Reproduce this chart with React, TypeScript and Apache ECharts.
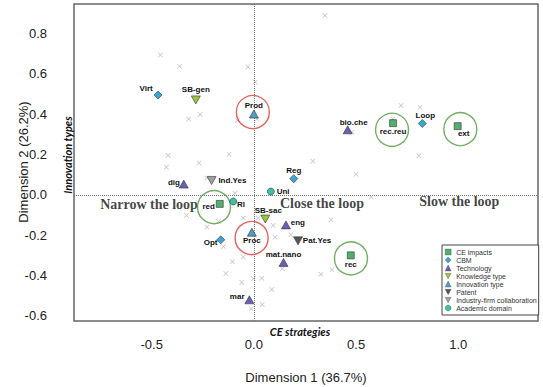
import React, { useEffect, useRef } from 'react';
import * as echarts from 'echarts';

// ---- data ----
const ceImpactNames = ['red', 'rec.reu', 'ext', 'rec'];
const ceImpactX = [-0.167, 0.681, 0.997, 0.474];
const ceImpactY = [-0.045, 0.355, 0.34, -0.3];

const cbmNames = ['Virt', 'Loop', 'Reg', 'Opt'];
const cbmX = [-0.469, 0.824, 0.195, -0.162];
const cbmY = [0.494, 0.353, 0.08, -0.223];

const techNames = ['dig', 'bio.che', 'eng', 'mat.nano', 'mar'];
const techX = [-0.343, 0.459, 0.157, 0.145, -0.022];
const techY = [0.053, 0.322, -0.149, -0.335, -0.52];

const knowNames = ['SB-gen', 'SB-sac'];
const knowX = [-0.284, 0.056];
const knowY = [0.47, -0.12];

const innovNames = ['Prod', 'Proc'];
const innovX = [0.0, -0.01];
const innovY = [0.4, -0.185];

const patentNames = ['Pat.Yes'];
const patentX = [0.216];
const patentY = [-0.228];

const industryNames = ['Ind.Yes'];
const industryX = [-0.207];
const industryY = [0.071];

const academicNames = ['Uni', 'Rl'];
const academicX = [0.083, -0.101];
const academicY = [0.016, -0.033];

// supplementary (grey crosses)
const suppX = [0.348, -0.457, -0.363, -0.029, 0.006, -0.319, -0.263, -0.08, 0.015, -0.42, -0.121, -0.268, -0.428, 0.288, 0.5, 0.72, 0.813, 0.48, 0.68, 0.807, 0.574, -0.229, -0.092, -0.33, -0.23, -0.173, -0.052, 0.021, 0.095, 0.181, 0.103, 0.377, -0.149, -0.105, -0.052, -0.137, -0.059, -0.003, 0.039, 0.088, -0.013, 0.041, 0.139, 0.328, 0.382];
const suppY = [0.888, 0.693, 0.637, 0.634, 0.558, 0.376, 0.398, 0.368, 0.375, 0.195, 0.201, 0.157, 0.137, 0.166, 0.102, 0.442, 0.434, 0.31, 0.375, 0.194, -0.011, 0.083, 0.008, -0.102, -0.16, -0.132, -0.115, -0.115, -0.152, -0.198, -0.21, -0.124, -0.256, -0.332, -0.308, -0.39, -0.434, -0.414, -0.413, -0.469, -0.564, -0.543, -0.366, -0.393, -0.371];

// highlight circles
const redCircleX = [-0.005, -0.011];
const redCircleY = [0.41, -0.214];
const greenCircleX = [-0.195, 0.676, 1.01, 0.475];
const greenCircleY = [-0.061, 0.322, 0.325, -0.315];

// strategy annotations
const strategyNames = ['Narrow the loop', 'Close the loop', 'Slow the loop'];
const strategyX = [-0.513, 0.333, 1.005];
const strategyY = [-0.046, -0.045, -0.033];

const legendNames = ['CE impacts', 'CBM', 'Technology', 'Knowledge type', 'Innovation type', 'Patent', 'Industry-firm collaboration', 'Academic domain'];

// ---- label placement (style) ----
const labelPlace: Record<string, [string, number[]]> = {
  Virt: ['left', [1, -7]],
  'SB-gen': ['top', [0, 0]],
  Prod: ['top', [0, 2]],
  'bio.che': ['top', [6, 3]],
  'rec.reu': ['bottom', [0, -1]],
  Loop: ['top', [3, 2]],
  ext: ['bottom', [6, -2]],
  Reg: ['top', [0, 2]],
  Uni: ['right', [0, 0]],
  dig: ['left', [3, -2]],
  'Ind.Yes': ['right', [0, 0]],
  red: ['left', [1, 3]],
  Rl: ['right', [-2, 3]],
  'SB-sac': ['top', [3, 2]],
  eng: ['right', [-2, -2]],
  Proc: ['bottom', [0, -2]],
  Opt: ['left', [3, 3]],
  'Pat.Yes': ['right', [-2, 0]],
  'mat.nano': ['top', [0, 2.5]],
  rec: ['bottom', [0, -1]],
  mar: ['left', [2, -3]],
};

const DOWN_TRI = 'path://M0,0 L10,0 L5,9 Z';
const CROSS = 'path://M1,0 L5,4 L9,0 L10,1 L6,5 L10,9 L9,10 L5,6 L1,10 L0,9 L4,5 L0,1 Z';

function pointSeries(name: string, names: string[], xs: number[], ys: number[], symbol: string, size: any, color: string) {
  return {
    type: 'scatter',
    name,
    symbol,
    symbolSize: size,
    z: 5,
    itemStyle: { color, borderColor: '#333', borderWidth: 0.6, opacity: 1 },
    label: {
      show: true,
      formatter: '{b}',
      fontSize: 8,
      fontWeight: 'bold',
      fontFamily: 'Liberation Sans',
      color: '#111',
      distance: 2,
    },
    data: names.map((n, i) => ({
      name: n,
      value: [xs[i], ys[i]],
      label: { position: labelPlace[n][0], offset: labelPlace[n][1] },
    })),
  };
}

function circleSeries(xs: number[], ys: number[], color: string) {
  return {
    type: 'scatter',
    symbol: 'circle',
    symbolSize: 33,
    silent: true,
    z: 4,
    itemStyle: { color: 'rgba(0,0,0,0)', borderColor: color, borderWidth: 1.4 },
    data: xs.map((x, i) => [x, ys[i]]),
  };
}

const fmtX = (v: number) => {
  const k = v / 0.5;
  if (Math.abs(k - Math.round(k)) > 1e-6) return '';
  let r = Math.round(v * 10) / 10;
  if (Math.abs(r) < 1e-9) r = 0;
  return r.toFixed(1);
};
const fmtY = (v: number) => {
  const k = v / 0.2;
  if (Math.abs(k - Math.round(k)) > 1e-6) return '';
  let r = Math.round(v * 10) / 10;
  if (Math.abs(r) < 1e-9) r = 0;
  return r.toFixed(1);
};

export default function App() {
  const ref = useRef<HTMLDivElement>(null);
  useEffect(() => {
    if (!ref.current) return;
    const chart = echarts.init(ref.current, undefined, { renderer: 'svg' });
    const option: any = {
      animation: false,
      backgroundColor: '#fff',
      grid: { left: 74, top: 4, right: 5, bottom: 66, show: true, borderColor: '#666', borderWidth: 1.5, backgroundColor: 'transparent' },
      xAxis: {
        type: 'value', min: -0.88, max: 1.39, interval: 0.02,
        axisLine: { show: false }, axisTick: { show: false }, splitLine: { show: false },
        axisLabel: { formatter: fmtX, margin: 17, fontSize: 13, color: '#222', fontFamily: 'Liberation Sans', showMinLabel: false, showMaxLabel: false },
      },
      yAxis: {
        type: 'value', min: -0.625, max: 0.945, interval: 0.025,
        axisLine: { show: false }, axisTick: { show: false }, splitLine: { show: false },
        axisLabel: { formatter: fmtY, margin: 27, fontSize: 13, color: '#222', fontFamily: 'Liberation Sans', showMinLabel: false, showMaxLabel: false },
      },
      legend: {
        data: legendNames,
        orient: 'vertical',
        left: 442, top: 245,
        padding: [3, 2, 3, 3],
        itemWidth: 6, itemHeight: 6, itemGap: 0,
        backgroundColor: '#fff', borderColor: '#444', borderWidth: 1,
        selectedMode: false,
        itemStyle: { borderWidth: 0.3 },
        textStyle: { fontSize: 7, color: '#333', fontFamily: 'Liberation Sans', lineHeight: 8 },
      },
      graphic: [
        { type: 'text', x: 306, y: 377, style: { text: 'Dimension 1 (36.7%)', fill: '#222', fontSize: 13, fontFamily: 'Liberation Sans', textAlign: 'center', textVerticalAlign: 'middle', align: 'center', verticalAlign: 'middle' } },
        { type: 'text', x: 23, y: 162, rotation: Math.PI / 2, style: { text: 'Dimension 2 (26.2%)', fill: '#222', fontSize: 13, fontFamily: 'Liberation Sans', textAlign: 'center', textVerticalAlign: 'middle', align: 'center', verticalAlign: 'middle' } },
        { type: 'text', x: 300, y: 331, style: { text: 'CE strategies', fill: '#111', fontSize: 11, fontWeight: 'bold', fontStyle: 'italic', fontFamily: 'Lato', textAlign: 'center', textVerticalAlign: 'middle', align: 'center', verticalAlign: 'middle' } },
        { type: 'text', x: 67, y: 155, rotation: Math.PI / 2, style: { text: 'Innovation types', fill: '#111', fontSize: 11, fontWeight: 'bold', fontStyle: 'italic', fontFamily: 'Lato', textAlign: 'center', textVerticalAlign: 'middle', align: 'center', verticalAlign: 'middle' } },
      ],
      series: [
        {
          type: 'scatter',
          name: 'supplementary',
          symbol: CROSS,
          symbolSize: 5,
          z: 2,
          silent: true,
          itemStyle: { color: '#b3b3b3' },
          data: suppX.map((x, i) => [x, suppY[i]]),
          markLine: {
            silent: true,
            symbol: ['none', 'none'],
            label: { show: false },
            lineStyle: { type: 'dotted', color: '#777', width: 1 },
            data: [{ xAxis: 0 }, { yAxis: 0 }],
          },
        },
        circleSeries(redCircleX, redCircleY, '#e53935'),
        circleSeries(greenCircleX, greenCircleY, '#4e9a3c'),
        {
          type: 'scatter',
          symbolSize: 0,
          silent: true,
          z: 3,
          itemStyle: { color: 'rgba(0,0,0,0)' },
          label: { show: true, position: 'inside', formatter: '{b}', fontFamily: 'Liberation Serif', fontWeight: 'bold', fontSize: 14, color: '#111' },
          data: strategyNames.map((n, i) => ({ name: n, value: [strategyX[i], strategyY[i]] })),
        },
        pointSeries('CE impacts', ceImpactNames, ceImpactX, ceImpactY, 'rect', 7, '#52b06e'),
        pointSeries('CBM', cbmNames, cbmX, cbmY, 'diamond', 8, '#3aa6d6'),
        pointSeries('Technology', techNames, techX, techY, 'triangle', [9, 8], '#6b5fb5'),
        pointSeries('Knowledge type', knowNames, knowX, knowY, DOWN_TRI, [9, 8], '#9bc53d'),
        pointSeries('Innovation type', innovNames, innovX, innovY, 'triangle', [9, 8], '#4f9dc4'),
        pointSeries('Patent', patentNames, patentX, patentY, DOWN_TRI, [9, 8], '#555555'),
        pointSeries('Industry-firm collaboration', industryNames, industryX, industryY, DOWN_TRI, [9, 8], '#a0a0a0'),
        pointSeries('Academic domain', academicNames, academicX, academicY, 'circle', 7, '#3fbfa5'),
      ],
    };
    chart.setOption(option);
    return () => chart.dispose();
  }, []);
  return <div ref={ref} style={{ position: 'fixed', left: 0, top: 0, width: 543, height: 387, background: '#fff' }} />;
}
